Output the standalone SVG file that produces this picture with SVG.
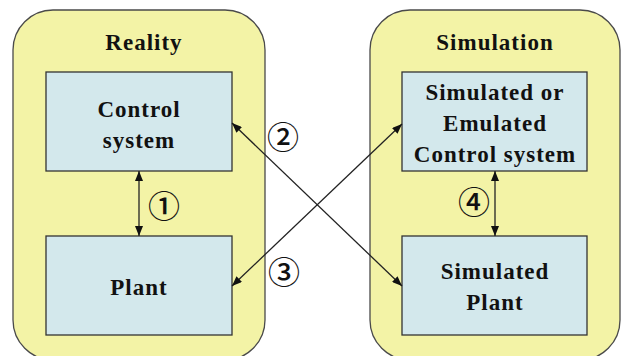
<svg xmlns="http://www.w3.org/2000/svg" width="621" height="356" viewBox="0 0 621 356">
<defs>
<style>
.cont{fill:#F3F3A6;stroke:#4a4a4a;stroke-width:1.3}
.box{fill:#D3E8EC;stroke:#333;stroke-width:1.3}
.t{font-family:"Liberation Serif","Times New Roman",serif;font-weight:bold;font-size:23px;letter-spacing:1px;fill:#111;text-anchor:middle}
.n{font-family:"Noto Sans CJK JP","DejaVu Sans",sans-serif;font-size:32px;font-weight:500;fill:#111;text-anchor:middle;dominant-baseline:central}
.c{stroke:#222;stroke-width:1.3;fill:none;marker-start:url(#ah);marker-end:url(#ah)}
</style>
<marker id="ah" viewBox="0 0 10 8" refX="10" refY="4" markerWidth="10" markerHeight="8" markerUnits="userSpaceOnUse" orient="auto-start-reverse">
<path d="M0,0 L10,4 L0,8 z" fill="#111"/>
</marker>
</defs>
<g id="reality">
<rect class="cont" x="13" y="10" width="252" height="350" rx="40" ry="40"/>
<text class="t" x="144" y="50">Reality</text>
</g>
<g id="simulation">
<rect class="cont" x="370" y="10" width="250" height="350" rx="40" ry="40"/>
<text class="t" x="495" y="50">Simulation</text>
</g>
<g id="control-system">
<rect class="box" x="46" y="72" width="186" height="99"/>
<text class="t" x="139" y="117">Control</text>
<text class="t" x="139" y="148">system</text>
</g>
<g id="plant">
<rect class="box" x="46" y="236" width="186" height="99"/>
<text class="t" x="139" y="295">Plant</text>
</g>
<g id="sim-control">
<rect class="box" x="402" y="72" width="185" height="99"/>
<text class="t" x="495" y="100">Simulated or</text>
<text class="t" x="495" y="131">Emulated</text>
<text class="t" x="495" y="162">Control system</text>
</g>
<g id="sim-plant">
<rect class="box" x="402" y="236" width="185" height="99"/>
<text class="t" x="495" y="279">Simulated</text>
<text class="t" x="495" y="310">Plant</text>
</g>
<g id="connectors">
<line class="c" x1="139" y1="171" x2="139" y2="236"/>
<line class="c" x1="495" y1="171" x2="495" y2="236"/>
<line class="c" x1="232" y1="123" x2="402" y2="286"/>
<line class="c" x1="402" y1="124" x2="232" y2="286"/>
<text class="n" x="164" y="204">①</text>
<text class="n" x="283" y="135">②</text>
<text class="n" x="284" y="270">③</text>
<text class="n" x="474" y="200">④</text>
</g>
</svg>
